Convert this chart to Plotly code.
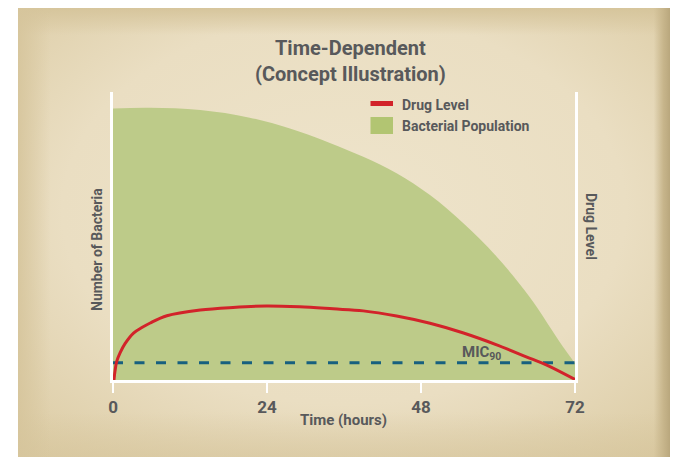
import base64
import plotly.graph_objects as go

# ---- data ----
tick_vals = [0, 24, 48, 72]
tick_text = ["0", "24", "48", "72"]

bact_t = [0, 5.8, 13.6, 21.3, 29.1, 33.8, 39.0, 44.2, 49.4, 54.6, 59.8, 64.9, 70.1, 72]
bact_v = [94.3, 94.5, 93.75, 91.1, 86.2, 82.3, 77.5, 71.8, 64.2, 54.4, 42.8, 28.9, 11.6, 5.8]

drug_t = [0.15, 0.3, 0.57, 1.1, 1.9, 3.2, 4.5, 5.8, 8.4, 13.6, 18.7, 23.9, 29.1, 34.3, 39.0, 44.2,
          49.4, 54.5, 59.8, 65.0, 67.6, 72]
drug_v = [0.0, 2.9, 6.4, 9.4, 12.7, 16.3, 18.2, 19.8, 22.3, 24.3, 25.2, 25.7, 25.4, 24.7, 24.0, 22.2,
          19.7, 16.4, 12.2, 7.5, 5.2, 0.2]

mic_t = [0, 72]
mic_v = [6.0, 6.0]

# page body has an 8px margin, so the figure is 8px smaller than the window
OFF = 8
W, H = 682 - OFF, 457 - OFF
L, T = 113 - OFF, 92 - OFF
R = W - (575 - OFF)
B = H - (380 - OFF)
PW, PH = W - L - R, H - T - B

def px(x):  # screen x -> paper
    return (x - OFF - L) / PW

def py(y):  # screen y -> paper
    return (H - B - (y - OFF)) / PH

FONT = "Roboto, Arial, sans-serif"
TXT = "#58595b"

svg = """<svg xmlns='http://www.w3.org/2000/svg' width='652' height='449' viewBox='0 0 652 449' preserveAspectRatio='none'>
<defs>
<radialGradient id='g' cx='0.5' cy='0.45' r='0.72'>
<stop offset='0' stop-color='#eee4cb'/>
<stop offset='0.6' stop-color='#eadec2'/>
<stop offset='1' stop-color='#dccca5'/>
</radialGradient>
<linearGradient id='t' x1='0' y1='0' x2='0' y2='1'>
<stop offset='0' stop-color='#d6c59c' stop-opacity='1'/>
<stop offset='0.06' stop-color='#d6c59c' stop-opacity='0'/>
<stop offset='0.9' stop-color='#d6c59c' stop-opacity='0'/>
<stop offset='1' stop-color='#d6c59c' stop-opacity='0.6'/>
</linearGradient>
<linearGradient id='s' x1='0' y1='0' x2='1' y2='0'>
<stop offset='0' stop-color='#d6c59c' stop-opacity='0.9'/>
<stop offset='0.05' stop-color='#d6c59c' stop-opacity='0'/>
<stop offset='0.975' stop-color='#c7b58b' stop-opacity='0'/>
<stop offset='0.99' stop-color='#c7b58b' stop-opacity='1'/>
<stop offset='1' stop-color='#b9a77d' stop-opacity='1'/>
</linearGradient>
</defs>
<rect width='652' height='449' fill='url(#g)'/>
<rect width='652' height='449' fill='url(#t)'/>
<rect width='652' height='449' fill='url(#s)'/>
</svg>"""
src = "data:image/svg+xml;base64," + base64.b64encode(svg.encode()).decode()

fig = go.Figure()
fig.add_trace(go.Scatter(x=bact_t, y=bact_v, mode="lines", fill="tozeroy",
                         fillcolor="#bdcb89", line=dict(width=0, shape="spline", color="#bdcb89"),
                         name="Bacterial Population", hoverinfo="skip"))
fig.add_trace(go.Scatter(x=mic_t, y=mic_v, mode="lines",
                         line=dict(color="#17607f", width=3, dash="10px,11.5px"),
                         name="MIC90", hoverinfo="skip"))
fig.add_trace(go.Scatter(x=drug_t, y=drug_v, mode="lines",
                         line=dict(color="#d2232a", width=3, shape="spline", smoothing=1.0),
                         name="Drug Level", hoverinfo="skip"))

shapes = [
    dict(type="line", xref="paper", yref="paper", x0=px(370.5), x1=px(393), y0=py(103.5), y1=py(103.5),
         line=dict(color="#d2232a", width=5)),
    dict(type="rect", xref="paper", yref="paper", x0=px(370.5), x1=px(393), y0=py(117), y1=py(134),
         fillcolor="#b2c572", line=dict(width=0)),
]

def lab(text, x, y, size, angle=0, anchor="center", bold=True):
    return dict(text=text, xref="paper", yref="paper", x=px(x), y=py(y), textangle=angle,
                xanchor=anchor, yanchor="middle", showarrow=False,
                font=dict(family=FONT, size=size, color=TXT, weight="bold" if bold else "normal"))

annotations = [
    lab("Time-Dependent<br>(Concept Illustration)", 350, 61, 20),
    lab("Drug Level", 400, 104.5, 14, anchor="left"),
    lab("Bacterial Population", 400, 126.5, 14, anchor="left"),
    lab("Number of Bacteria", 97, 250, 14, angle=-90),
    lab("Drug Level", 591, 226, 14, angle=90),
    lab("Time (hours)", 343, 420, 15),
    dict(text="MIC<sub>90</sub>", xref="x", yref="y", x=54.0, y=9.5,
         xanchor="left", yanchor="middle", showarrow=False,
         font=dict(family=FONT, size=15, color=TXT, weight="bold")),
]

fig.update_layout(
    width=W, height=H,
    margin=dict(l=L, r=R, t=T, b=B, autoexpand=False),
    paper_bgcolor="white", plot_bgcolor="rgba(0,0,0,0)",
    showlegend=False,
    images=[dict(source=src, xref="paper", yref="paper", x=px(18), y=py(8),
                 sizex=px(670) - px(18), sizey=py(8) - py(457), sizing="stretch",
                 xanchor="left", yanchor="top", layer="below")],
    shapes=shapes,
    annotations=annotations,
)
fig.update_xaxes(range=[0, 72], tickvals=tick_vals, ticktext=tick_text, showgrid=False, zeroline=False,
                 showline=True, linecolor="white", linewidth=2.5, ticks="outside", ticklen=10,
                 tickwidth=2, tickcolor="white",
                 tickfont=dict(family=FONT, size=17, color=TXT, weight="bold"))
fig.update_yaxes(range=[0, 100], showgrid=False, zeroline=False, showticklabels=False,
                 showline=True, mirror=True, linecolor="white", linewidth=2.5, ticks="")

fig.write_html("out.html")
